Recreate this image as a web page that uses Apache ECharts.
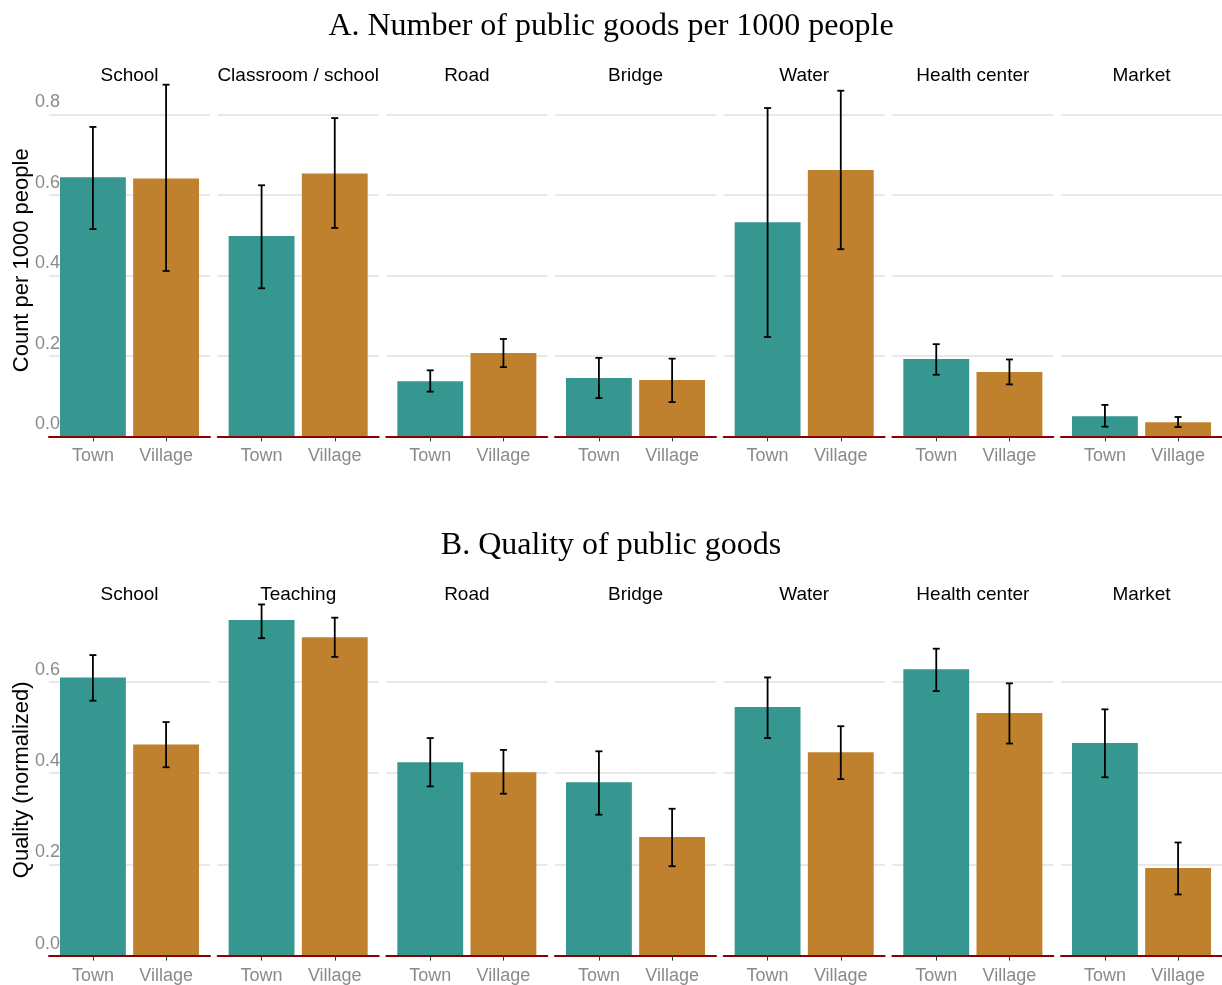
<!DOCTYPE html>
<html>
<head>
<meta charset="utf-8">
<title>Public goods: town vs village</title>
<script src="https://cdn.jsdelivr.net/npm/echarts@6/dist/echarts.min.js"></script>
<style>
  html, body { margin: 0; padding: 0; background: #ffffff; }
  #chart { width: 1222px; height: 985px; }
</style>
</head>
<body>
<div id="chart"></div>
<script>
// ---- data -------------------------------------------------------------
const groups = ['Town', 'Village'];

const countFacets = ['School', 'Classroom / school', 'Road', 'Bridge', 'Water', 'Health center', 'Market'];
const countTown      = [0.644, 0.498, 0.137, 0.145, 0.532, 0.192, 0.050];
const countTownLo    = [0.515, 0.368, 0.111, 0.095, 0.247, 0.153, 0.024];
const countTownHi    = [0.769, 0.624, 0.164, 0.195, 0.816, 0.229, 0.078];
const countVillage   = [0.641, 0.653, 0.207, 0.140, 0.662, 0.160, 0.035];
const countVillageLo = [0.411, 0.518, 0.172, 0.085, 0.465, 0.129, 0.023];
const countVillageHi = [0.874, 0.791, 0.242, 0.193, 0.859, 0.191, 0.048];

const qualityFacets = ['School', 'Teaching', 'Road', 'Bridge', 'Water', 'Health center', 'Market'];
const qualityTown      = [0.610, 0.736, 0.424, 0.380, 0.545, 0.628, 0.466];
const qualityTownLo    = [0.559, 0.696, 0.371, 0.309, 0.477, 0.580, 0.391];
const qualityTownHi    = [0.659, 0.770, 0.477, 0.448, 0.610, 0.673, 0.540];
const qualityVillage   = [0.463, 0.698, 0.402, 0.260, 0.446, 0.532, 0.192];
const qualityVillageLo = [0.413, 0.655, 0.355, 0.196, 0.387, 0.465, 0.134];
const qualityVillageHi = [0.512, 0.741, 0.451, 0.322, 0.503, 0.597, 0.248];

const yTicks = [0, 0.2, 0.4, 0.6, 0.8];

// ---- layout & style ---------------------------------------------------
const colors = { Town: '#35978f', Village: '#bf812d' };
const SANS = '"Liberation Sans", Arial, sans-serif';
const SERIF = '"Liberation Serif", "DejaVu Serif", serif';

const facetLeft0 = 49, facetStep = 168.67, facetWidth = 161;
const xMin = 0.4, xMax = 2.6;                 // discrete scale with 0.6 padding
const barWidth = 0.9 / (xMax - xMin) * facetWidth;

const panels = [
  {
    title: 'A. Number of public goods per 1000 people', titleY: 27,
    yName: 'Count per 1000 people',
    facets: countFacets, top: 84.3, height: 352, yMax: 0.875, stripY: 75.5,
    town: countTown, townLo: countTownLo, townHi: countTownHi,
    village: countVillage, villageLo: countVillageLo, villageHi: countVillageHi
  },
  {
    title: 'B. Quality of public goods', titleY: 546,
    yName: 'Quality (normalized)',
    facets: qualityFacets, top: 604, height: 351.6, yMax: 0.771, stripY: 594.5,
    town: qualityTown, townLo: qualityTownLo, townHi: qualityTownHi,
    village: qualityVillage, villageLo: qualityVillageLo, villageHi: qualityVillageHi
  }
];

const grid = [], xAxis = [], yAxis = [], series = [], graphic = [];

panels.forEach((p, pi) => {
  graphic.push({
    type: 'text', x: 611, y: p.titleY, z: 10,
    style: { text: p.title, font: '32px ' + SERIF, fill: '#000',
             align: 'center', verticalAlign: 'middle',
             textAlign: 'center', textVerticalAlign: 'middle' }
  });
  graphic.push({
    type: 'text', x: 22, y: p.top + p.height / 2, rotation: Math.PI / 2, z: 10,
    style: { text: p.yName, font: '22px ' + SANS, fill: '#000',
             align: 'center', verticalAlign: 'middle',
             textAlign: 'center', textVerticalAlign: 'middle' }
  });

  const panelTicks = yTicks.filter(v => v <= p.yMax);

  p.facets.forEach((name, fi) => {
    const idx = grid.length;
    const left = facetLeft0 + fi * facetStep;
    grid.push({ left: left, top: p.top, width: facetWidth, height: p.height, containLabel: false });

    graphic.push({
      type: 'text', x: left + facetWidth / 2, y: p.stripY, z: 10,
      style: { text: name, font: '19px ' + SANS, fill: '#000',
               align: 'center', verticalAlign: 'middle',
               textAlign: 'center', textVerticalAlign: 'middle' }
    });

    xAxis.push({
      type: 'value', gridIndex: idx, min: xMin, max: xMax, z: 3,
      splitLine: { show: false },
      axisLine: { show: true, onZero: true, lineStyle: { color: '#8b0000', width: 2 } },
      axisTick: { show: true, customValues: [1, 2], length: 5, lineStyle: { color: '#333', width: 1 } },
      axisLabel: {
        customValues: [1, 2], margin: 11, color: '#8a8a8a', fontSize: 18, fontFamily: SANS,
        formatter: v => groups[Math.round(v) - 1] || ''
      }
    });

    yAxis.push({
      type: 'value', gridIndex: idx, min: 0, max: p.yMax, interval: 0.2,
      axisLine: { show: false }, axisTick: { show: false },
      splitLine: { show: true, showMaxLine: false, lineStyle: { color: '#e8e8e8', width: 1.8 } },
      axisLabel: {
        show: fi === 0, customValues: panelTicks,
        margin: -11, align: 'right', verticalAlign: 'bottom', padding: [0, 0, 3, 0],
        color: '#8a8a8a', fontSize: 18, fontFamily: SANS,
        formatter: v => v.toFixed(1)
      }
    });

    series.push({
      type: 'bar', xAxisIndex: idx, yAxisIndex: idx, barWidth: barWidth, z: 2,
      data: [
        { value: [1, p.town[fi]], itemStyle: { color: colors.Town } },
        { value: [2, p.village[fi]], itemStyle: { color: colors.Village } }
      ]
    });

    series.push({
      type: 'custom', xAxisIndex: idx, yAxisIndex: idx, z: 4, clip: false,
      data: [
        [1, p.townLo[fi], p.townHi[fi]],
        [2, p.villageLo[fi], p.villageHi[fi]]
      ],
      encode: { x: 0, y: [1, 2] },
      renderItem: (params, api) => {
        const lo = api.coord([api.value(0), api.value(1)]);
        const hi = api.coord([api.value(0), api.value(2)]);
        const cap = 3.5;
        const st = { stroke: '#000', lineWidth: 1.8, fill: null };
        return {
          type: 'group',
          children: [
            { type: 'line', shape: { x1: lo[0], y1: lo[1], x2: hi[0], y2: hi[1] }, style: st },
            { type: 'line', shape: { x1: hi[0] - cap, y1: hi[1], x2: hi[0] + cap, y2: hi[1] }, style: st },
            { type: 'line', shape: { x1: lo[0] - cap, y1: lo[1], x2: lo[0] + cap, y2: lo[1] }, style: st }
          ]
        };
      }
    });
  });
});

const chart = echarts.init(document.getElementById('chart'), null, { renderer: 'canvas' });
chart.setOption({
  animation: false,
  backgroundColor: '#ffffff',
  grid, xAxis, yAxis, series, graphic
});
</script>
</body>
</html>
